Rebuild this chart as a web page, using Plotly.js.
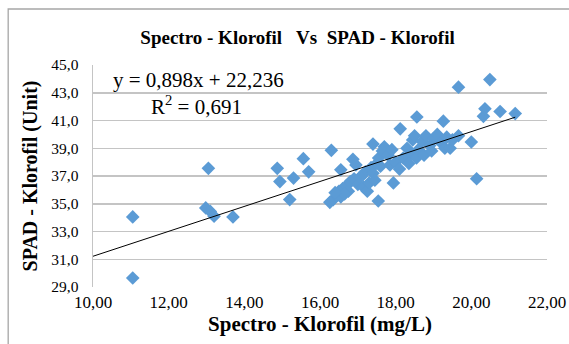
<!DOCTYPE html>
<html>
<head>
<meta charset="utf-8">
<script src="https://cdn.plot.ly/plotly-3.0.1.min.js"></script>
<style>html,body{margin:0;padding:0;background:#fff;}#chart{width:569px;height:344px;}</style>
</head>
<body>
<div id="chart"></div>
<script>
// Spectro - Klorofil (mg/L)
const spectro = [
  11.05, 11.05, 13.05, 12.98, 13.10, 13.20, 13.70,
  14.87, 14.94, 15.30, 15.20, 15.56, 15.70,
  16.30, 16.87, 16.55, 16.26, 16.35, 16.45, 16.50, 16.60, 16.55, 16.70, 16.75, 16.80,
  16.90, 16.65, 17.00, 17.10, 17.20, 17.15, 17.25, 17.30, 17.35, 17.40, 17.45, 17.54,
  17.50, 17.40, 17.55, 17.60, 17.70, 17.65, 17.80, 17.85, 17.94, 17.90, 18.00, 18.10,
  18.12, 16.95, 17.05, 16.40,
  18.20, 18.30, 18.40, 18.45, 18.50, 18.56, 18.55, 18.60, 18.70, 18.75, 18.80, 18.90,
  18.95, 19.00, 19.10, 19.26, 19.20, 19.30, 19.44, 19.50, 19.66, 19.66, 20.00, 20.14,
  20.32, 20.36, 20.49, 20.76, 21.16, 18.35, 19.35
];
// SPAD - Klorofil (Unit)
const spad = [
  34.05, 29.65, 37.55, 34.70, 34.45, 34.10, 34.05,
  37.55, 36.60, 36.85, 35.30, 38.25, 37.30,
  38.85, 38.20, 37.45, 35.10, 35.30, 35.60, 35.90, 36.10, 35.50, 36.30, 35.90, 36.60,
  36.80, 35.70, 36.40, 37.00, 37.30, 36.20, 35.90, 36.50, 37.60, 37.20, 36.70, 35.20,
  37.90, 39.30, 38.30, 37.70, 39.10, 38.80, 38.50, 37.80, 36.50, 38.90, 38.00, 37.50,
  40.40, 37.80, 36.90, 35.80,
  38.30, 39.00, 38.60, 39.60, 39.90, 41.25, 38.30, 38.90, 39.50, 38.50, 39.90, 39.20,
  38.80, 39.70, 40.00, 40.95, 39.40, 39.00, 39.00, 39.60, 39.90, 43.40, 39.45, 36.80,
  41.30, 41.85, 43.95, 41.65, 41.50, 37.90, 39.80
];
// Linear trendline coefficients (from chart label)
const slope = 0.898;
const intercept = 22.236;
const r2 = 0.691;

const xTicks = [10, 12, 14, 16, 18, 20, 22];
const yTicks = [29, 31, 33, 35, 37, 39, 41, 43, 45];

const fmt = (v, d) => v.toFixed(d).replace('.', ',');
const xLineStart = 10, xLineEnd = Math.max(...spectro);

const serif = 'Liberation Serif, Times New Roman, serif';

const traces = [
  {
    x: spectro, y: spad, mode: 'markers', type: 'scatter',
    marker: {symbol: 'diamond', size: 10.5, color: '#5b9bd5'},
    hoverinfo: 'skip', showlegend: false
  },
  {
    x: [xLineStart, xLineEnd],
    y: [slope * xLineStart + intercept, slope * xLineEnd + intercept],
    mode: 'lines', type: 'scatter',
    line: {color: '#000', width: 1},
    hoverinfo: 'skip', showlegend: false
  }
];

const pxX = (p) => (p - 93) / 455;
const pxY = (p) => (287 - p) / 222;

const layout = {
  width: 569, height: 344,
  margin: {l: 93, r: 22, t: 65, b: 57},
  paper_bgcolor: '#fff', plot_bgcolor: '#fff',
  separators: ',.',
  font: {family: serif, color: '#000', size: 15},
  title: {
    text: '<b>Spectro - Klorofil   Vs  SPAD - Klorofil</b>',
    font: {family: serif, size: 19, color: '#000'},
    xref: 'paper', x: pxX(298), xanchor: 'center',
    yref: 'container', y: 1 - 37 / 344, yanchor: 'middle'
  },
  xaxis: {
    range: [10, 22], tickvals: xTicks, ticktext: xTicks.map(v => fmt(v, 2)),
    showgrid: false, zeroline: false, showline: false, ticks: '',
    ticklabelstandoff: 3,
    tickfont: {family: serif, size: 17, color: '#000'},
    title: {text: '<b>Spectro - Klorofil (mg/L)</b>', font: {family: serif, size: 21, color: '#000'}, standoff: 2}
  },
  yaxis: {
    range: [29, 45], tickvals: yTicks, ticktext: yTicks.map(v => fmt(v, 1)),
    showgrid: true, gridcolor: '#c4c4c4', gridwidth: 1.5, zeroline: false,
    showline: true, linecolor: '#c4c4c4', linewidth: 1.5, ticks: '',
    ticklabelstandoff: 10,
    tickfont: {family: serif, size: 15.5, color: '#000'},
    title: {text: '<b>SPAD - Klorofil (Unit)</b>', font: {family: serif, size: 20, color: '#000'}, standoff: 8}
  },
  annotations: [
    {
      xref: 'paper', yref: 'paper', x: pxX(199), y: pxY(80),
      text: 'y = ' + fmt(slope, 3) + 'x + ' + fmt(intercept, 3),
      showarrow: false, xanchor: 'center', yanchor: 'middle',
      font: {family: serif, size: 21, color: '#000'}
    },
    {
      xref: 'paper', yref: 'paper', x: pxX(197), y: pxY(105),
      text: 'R<sup>2</sup> = ' + fmt(r2, 3),
      showarrow: false, xanchor: 'center', yanchor: 'middle',
      font: {family: serif, size: 21, color: '#000'}
    }
  ],
  shapes: [
    {
      type: 'rect', xref: 'paper', yref: 'paper',
      x0: pxX(8), x1: pxX(580), y0: pxY(360), y1: pxY(9),
      line: {color: '#a6a6a6', width: 1.3}, fillcolor: 'rgba(0,0,0,0)', layer: 'below'
    }
  ]
};

Plotly.newPlot('chart', traces, layout, {staticPlot: true, displayModeBar: false});
</script>
</body>
</html>
